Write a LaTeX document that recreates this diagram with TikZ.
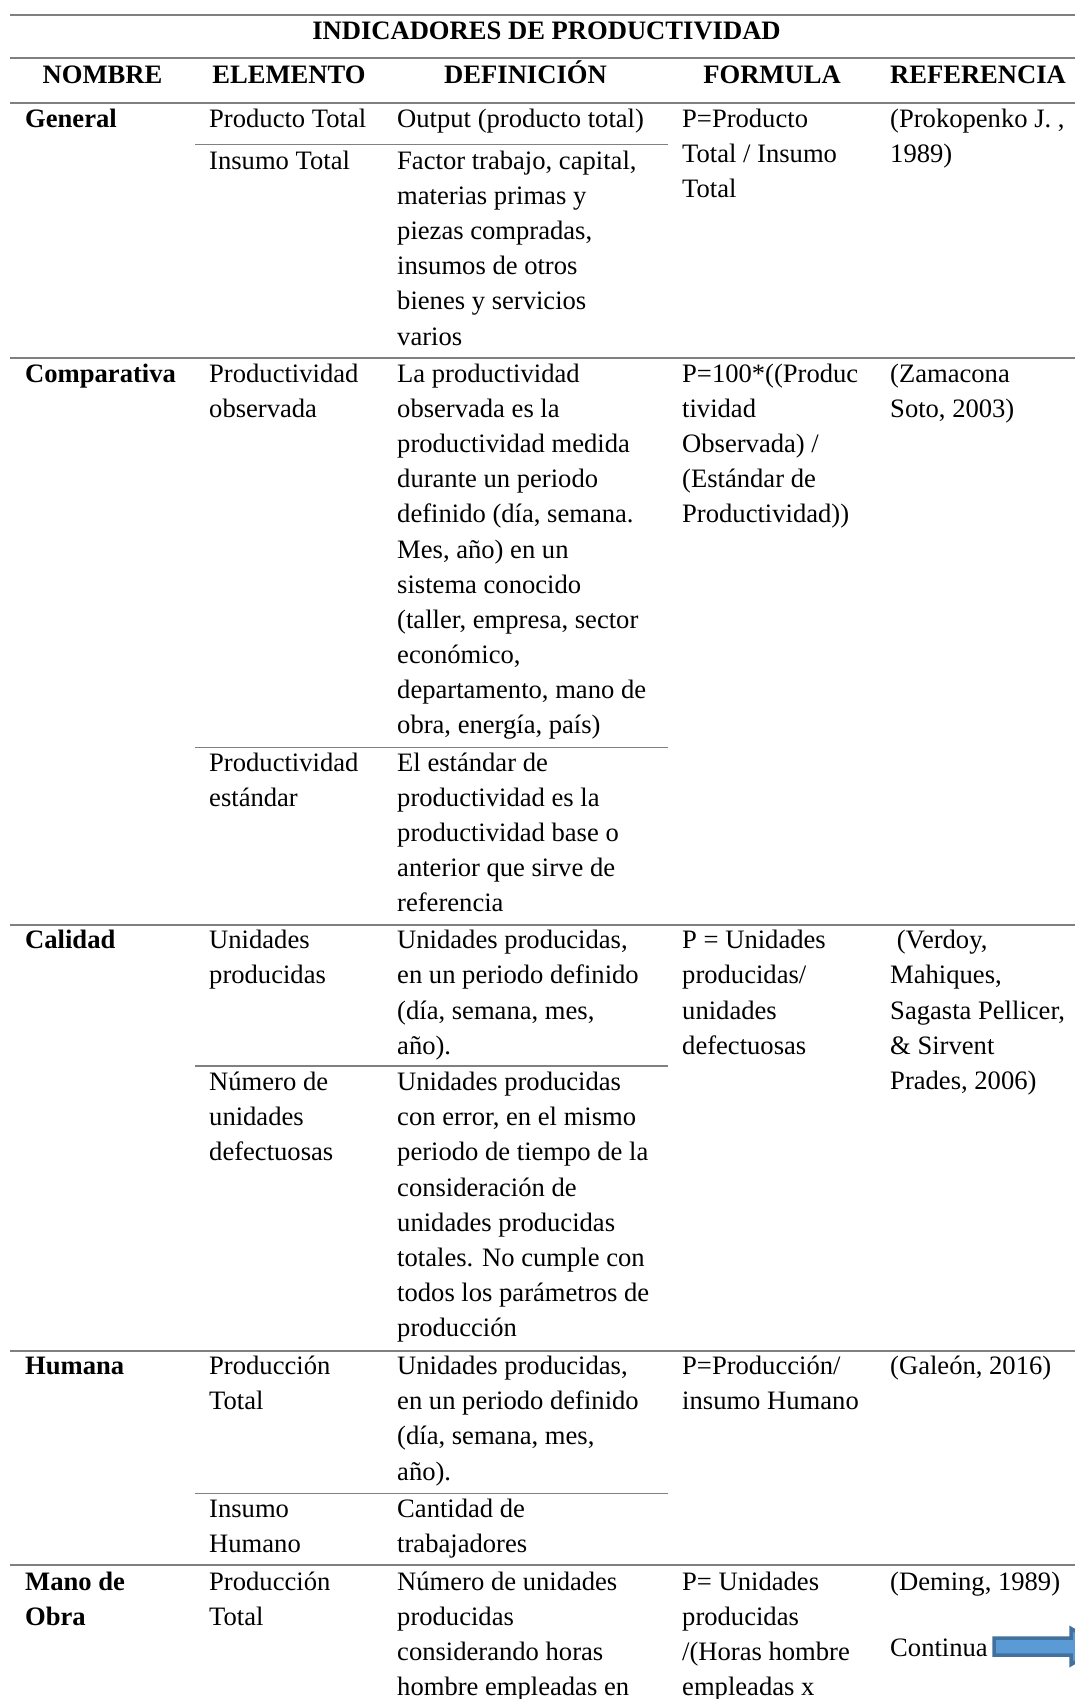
\documentclass[tikz,border=0pt]{standalone}
\usepackage{fontspec}
\setmainfont{Liberation Serif}
\definecolor{rulegray}{RGB}{128,128,128}
\definecolor{arrowfill}{RGB}{91,155,213}
\definecolor{arrowline}{RGB}{65,113,156}
% one table cell: lines stacked, first line on the node's baseline
\newcommand\cellt[1]{\begin{tabular}[t]{@{}l@{}}#1\end{tabular}}
\begin{document}
\begin{tikzpicture}[x=1pt,y=-1pt,
  txt/.style={inner sep=0pt,anchor=base west,font=\fontsize{26.6pt}{35.1pt}\selectfont},
  head/.style={inner sep=0pt,anchor=base,font=\fontsize{26.6pt}{35.1pt}\selectfont\bfseries},
  rowrule/.style={draw=rulegray,line width=2pt},
  subrule/.style={draw=rulegray,line width=1.8pt},
  blockarrow/.style={fill=arrowfill,draw=arrowline,line width=3.5pt,line join=miter}]
\useasboundingbox (0,0) rectangle (1075,1699);
\fill[white] (0,0) rectangle (1075,1699);
\clip (0,0) rectangle (1075,1699);

% column text starts
\def\ca{25}\def\cb{209}\def\cc{397}\def\cd{682}\def\ce{890}

% horizontal rules of the table
\foreach \yy in {15,58.5,103,357.5,924.5,1351,1565}
  \draw[rowrule] (10,\yy) -- (1083,\yy);
\foreach \yy in {144.5,747.5,1066,1493.5}
  \draw[subrule] (195,\yy) -- (668,\yy);

% title and column headers
\node[head] (title) at (546.5,39.5) {INDICADORES DE PRODUCTIVIDAD};
\node[head] (hnom) at (102.5,83.3) {NOMBRE};
\node[head] (hele) at (289,83.3) {ELEMENTO};
\node[head] (hdef) at (525.5,83.3) {DEFINICIÓN};
\node[head] (hfor) at (772,83.3) {FORMULA};
\node[head] (href) at (978,83.3) {REFERENCIA};

% General
\node[txt] (gA) at (\ca,127.3) {\textbf{General}};
\node[txt] (gB1) at (\cb,127.3) {\cellt{Producto Total}};
\node[txt] (gC1) at (\cc,127.3) {\cellt{Output (producto total)}};
\node[txt] (gB2) at (\cb,169.6) {\cellt{Insumo Total}};
\node[txt] (gC2) at (\cc,169.6) {\cellt{Factor trabajo, capital,\\materias primas y\\piezas compradas,\\insumos de otros\\bienes y servicios\\varios}};
\node[txt] (gD) at (\cd,127.3) {\cellt{P=Producto\\Total / Insumo\\Total}};
\node[txt] (gE) at (\ce,127.3) {\cellt{(Prokopenko J. ,\\1989)}};

% Comparativa
\node[txt] (cA) at (\ca,382.5) {\textbf{Comparativa}};
\node[txt] (cB1) at (\cb,382.5) {\cellt{Productividad\\observada}};
\node[txt] (cC1) at (\cc,382.5) {\cellt{La productividad\\observada es la\\productividad medida\\durante un periodo\\definido (día, semana.\\Mes, año) en un\\sistema conocido\\(taller, empresa, sector\\económico,\\departamento, mano de\\obra, energía, país)}};
\node[txt] (cB2) at (\cb,771.2) {\cellt{Productividad\\estándar}};
\node[txt] (cC2) at (\cc,771.2) {\cellt{El estándar de\\productividad es la\\productividad base o\\anterior que sirve de\\referencia}};
\node[txt] (cD) at (\cd,382.5) {\cellt{P=100*((Produc\\tividad\\Observada) /\\(Estándar de\\Productividad))}};
\node[txt] (cE) at (\ce,382.5) {\cellt{(Zamacona\\Soto, 2003)}};

% Calidad
\node[txt] (qA) at (\ca,948.8) {\textbf{Calidad}};
\node[txt] (qB1) at (\cb,948.8) {\cellt{Unidades\\producidas}};
\node[txt] (qC1) at (\cc,948.8) {\cellt{Unidades producidas,\\en un periodo definido\\(día, semana, mes,\\año).}};
\node[txt] (qB2) at (\cb,1090.7) {\cellt{Número de\\unidades\\defectuosas}};
\node[txt] (qC2) at (\cc,1090.7) {\cellt{Unidades producidas\\con error, en el mismo\\periodo de tiempo de la\\consideración de\\unidades producidas\\totales. No cumple con\\todos los parámetros de\\producción}};
\node[txt] (qD) at (\cd,948.8) {\cellt{P = Unidades\\producidas/\\unidades\\defectuosas}};
\node[txt] (qE) at (\ce,948.8) {\cellt{\hspace*{0.25em}(Verdoy,\\Mahiques,\\Sagasta Pellicer,\\\& Sirvent\\Prades, 2006)}};

% Humana
\node[txt] (hA) at (\ca,1374.7) {\textbf{Humana}};
\node[txt] (hB1) at (\cb,1374.7) {\cellt{Producción\\Total}};
\node[txt] (hC1) at (\cc,1374.7) {\cellt{Unidades producidas,\\en un periodo definido\\(día, semana, mes,\\año).}};
\node[txt] (hB2) at (\cb,1517.7) {\cellt{Insumo\\Humano}};
\node[txt] (hC2) at (\cc,1517.7) {\cellt{Cantidad de\\trabajadores}};
\node[txt] (hD) at (\cd,1374.7) {\cellt{P=Producción/\\insumo Humano}};
\node[txt] (hE) at (\ce,1374.7) {\cellt{(Galeón, 2016)}};

% Mano de Obra
\node[txt] (mA) at (\ca,1590.3) {\cellt{\textbf{Mano de}\\\textbf{Obra}}};
\node[txt] (mB) at (\cb,1590.3) {\cellt{Producción\\Total}};
\node[txt] (mC) at (\cc,1590.3) {\cellt{Número de unidades\\producidas\\considerando horas\\hombre empleadas en}};
\node[txt] (mD) at (\cd,1590.3) {\cellt{P= Unidades\\producidas\\/(Horas hombre\\empleadas x}};
\node[txt] (mE) at (\ce,1590.3) {\cellt{(Deming, 1989)}};

% continuation mark
\node[txt] (cont) at (\ce,1656) {Continua};
\draw[blockarrow] (994,1638) -- (1071,1638) -- (1071,1628.5) -- (1102,1646.5)
  -- (1071,1664.5) -- (1071,1655) -- (994,1655) -- cycle;
\end{tikzpicture}
\end{document}
